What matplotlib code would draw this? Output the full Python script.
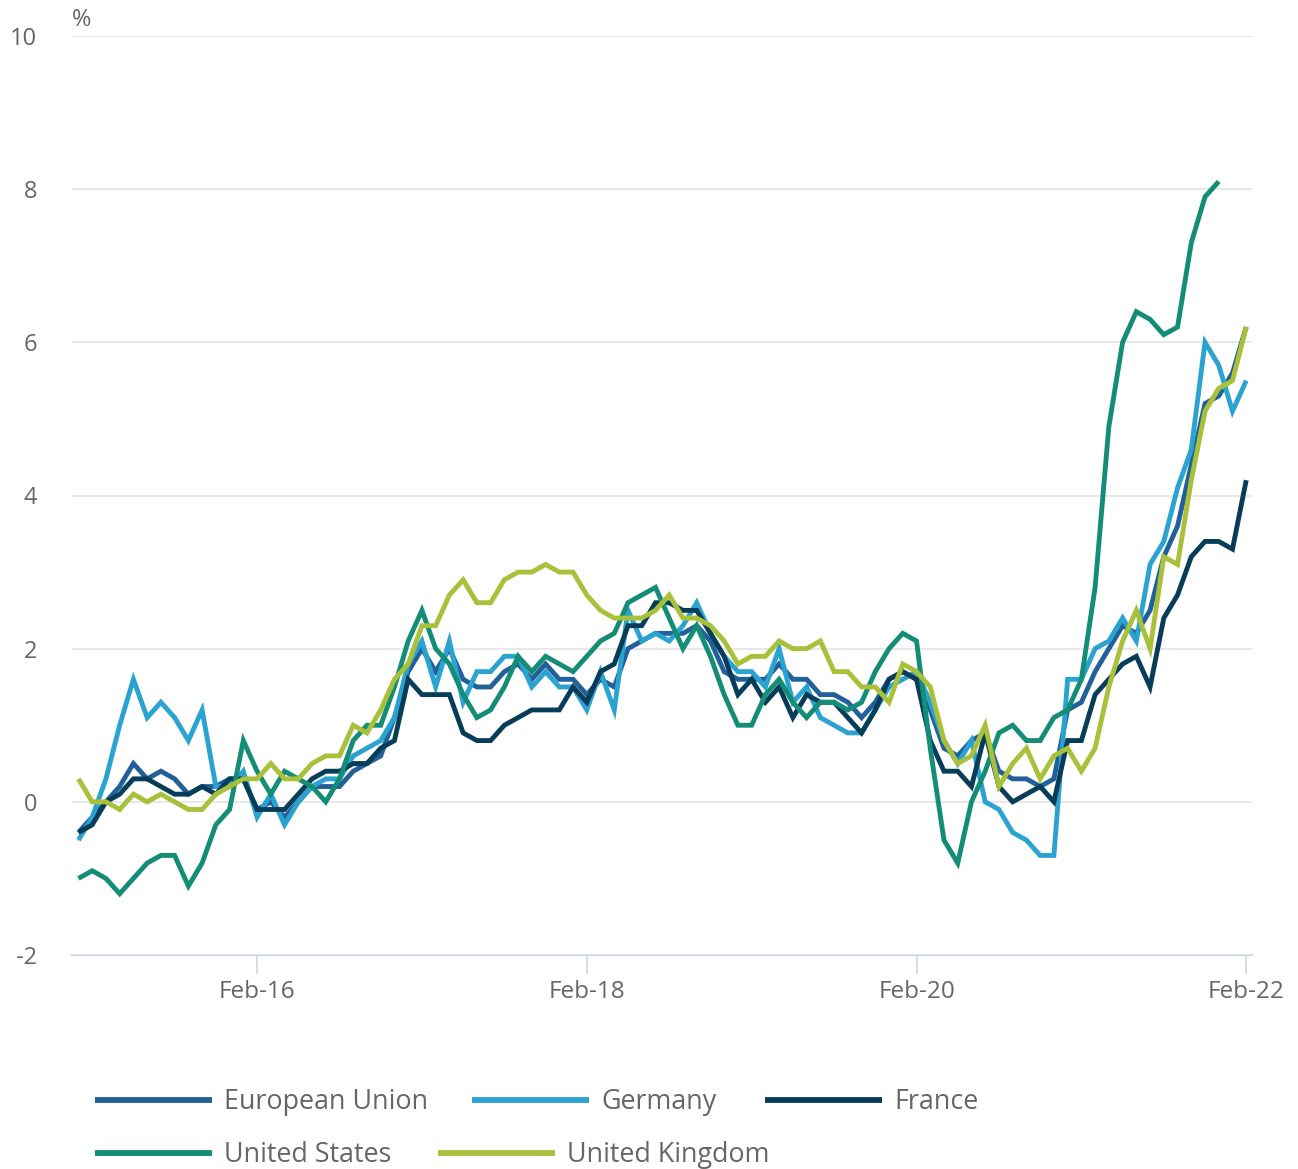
import numpy as np
import matplotlib
matplotlib.use("Agg")
import matplotlib.pyplot as plt
from matplotlib.lines import Line2D

# ---- data (annual inflation, %) monthly Jan-15 .. Feb-22 ----
months = [f"{m}-{y:02d}" for y in range(15, 23) for m in
          ["Jan", "Feb", "Mar", "Apr", "May", "Jun", "Jul", "Aug", "Sep", "Oct", "Nov", "Dec"]][:86]

eu = [-0.4, -0.2, 0.0, 0.2, 0.5, 0.3, 0.4, 0.3, 0.1, 0.2, 0.2, 0.3,
      0.3, -0.1, 0.0, -0.2, 0.0, 0.2, 0.2, 0.2, 0.4, 0.5, 0.6, 1.1,
      1.7, 2.0, 1.7, 2.0, 1.6, 1.5, 1.5, 1.7, 1.8, 1.6, 1.8, 1.6,
      1.6, 1.4, 1.6, 1.5, 2.0, 2.1, 2.2, 2.2, 2.2, 2.3, 2.1, 1.7,
      1.6, 1.6, 1.6, 1.8, 1.6, 1.6, 1.4, 1.4, 1.3, 1.1, 1.3, 1.6,
      1.7, 1.6, 1.2, 0.7, 0.6, 0.8, 0.9, 0.4, 0.3, 0.3, 0.2, 0.3,
      1.2, 1.3, 1.7, 2.0, 2.3, 2.2, 2.5, 3.2, 3.6, 4.4, 5.2, 5.3,
      5.6, 6.2]

germany = [-0.5, -0.2, 0.3, 1.0, 1.6, 1.1, 1.3, 1.1, 0.8, 1.2, 0.2, 0.2,
           0.4, -0.2, 0.1, -0.3, 0.0, 0.2, 0.3, 0.3, 0.6, 0.7, 0.8, 1.1,
           1.8, 2.1, 1.5, 2.1, 1.3, 1.7, 1.7, 1.9, 1.9, 1.5, 1.7, 1.5,
           1.5, 1.2, 1.7, 1.2, 2.5, 2.1, 2.2, 2.1, 2.3, 2.6, 2.2, 1.9,
           1.7, 1.7, 1.5, 2.0, 1.3, 1.5, 1.1, 1.0, 0.9, 0.9, 1.2, 1.5,
           1.6, 1.7, 1.3, 0.8, 0.5, 0.8, 0.0, -0.1, -0.4, -0.5, -0.7, -0.7,
           1.6, 1.6, 2.0, 2.1, 2.4, 2.1, 3.1, 3.4, 4.1, 4.6, 6.0, 5.7,
           5.1, 5.5]

france = [-0.4, -0.3, 0.0, 0.1, 0.3, 0.3, 0.2, 0.1, 0.1, 0.2, 0.1, 0.3,
          0.3, -0.1, -0.1, -0.1, 0.1, 0.3, 0.4, 0.4, 0.5, 0.5, 0.7, 0.8,
          1.6, 1.4, 1.4, 1.4, 0.9, 0.8, 0.8, 1.0, 1.1, 1.2, 1.2, 1.2,
          1.5, 1.3, 1.7, 1.8, 2.3, 2.3, 2.6, 2.6, 2.5, 2.5, 2.2, 1.9,
          1.4, 1.6, 1.3, 1.5, 1.1, 1.4, 1.3, 1.3, 1.1, 0.9, 1.2, 1.6,
          1.7, 1.6, 0.8, 0.4, 0.4, 0.2, 0.9, 0.2, 0.0, 0.1, 0.2, 0.0,
          0.8, 0.8, 1.4, 1.6, 1.8, 1.9, 1.5, 2.4, 2.7, 3.2, 3.4, 3.4,
          3.3, 4.2]

united_states = [-1.0, -0.9, -1.0, -1.2, -1.0, -0.8, -0.7, -0.7, -1.1, -0.8, -0.3, -0.1,
                 0.8, 0.4, 0.1, 0.4, 0.3, 0.2, 0.0, 0.3, 0.8, 1.0, 1.0, 1.5,
                 2.1, 2.5, 2.0, 1.8, 1.4, 1.1, 1.2, 1.5, 1.9, 1.7, 1.9, 1.8,
                 1.7, 1.9, 2.1, 2.2, 2.6, 2.7, 2.8, 2.4, 2.0, 2.3, 1.9, 1.4,
                 1.0, 1.0, 1.4, 1.6, 1.3, 1.1, 1.3, 1.3, 1.2, 1.3, 1.7, 2.0,
                 2.2, 2.1, 0.7, -0.5, -0.8, 0.0, 0.4, 0.9, 1.0, 0.8, 0.8, 1.1,
                 1.2, 1.6, 2.8, 4.9, 6.0, 6.4, 6.3, 6.1, 6.2, 7.3, 7.9, 8.1]

united_kingdom = [0.3, 0.0, 0.0, -0.1, 0.1, 0.0, 0.1, 0.0, -0.1, -0.1, 0.1, 0.2,
                  0.3, 0.3, 0.5, 0.3, 0.3, 0.5, 0.6, 0.6, 1.0, 0.9, 1.2, 1.6,
                  1.8, 2.3, 2.3, 2.7, 2.9, 2.6, 2.6, 2.9, 3.0, 3.0, 3.1, 3.0,
                  3.0, 2.7, 2.5, 2.4, 2.4, 2.4, 2.5, 2.7, 2.4, 2.4, 2.3, 2.1,
                  1.8, 1.9, 1.9, 2.1, 2.0, 2.0, 2.1, 1.7, 1.7, 1.5, 1.5, 1.3,
                  1.8, 1.7, 1.5, 0.8, 0.5, 0.6, 1.0, 0.2, 0.5, 0.7, 0.3, 0.6,
                  0.7, 0.4, 0.7, 1.5, 2.1, 2.5, 2.0, 3.2, 3.1, 4.2, 5.1, 5.4,
                  5.5, 6.2]

series_names = ["European Union", "Germany", "France", "United States", "United Kingdom"]
series_values = [eu, germany, france, united_states, united_kingdom]
colors = ["#22609a", "#2ba3d1", "#073d58", "#138d76", "#a9c03b"]

tick_labels = ["Feb-16", "Feb-18", "Feb-20", "Feb-22"]
y_ticks = [-2, 0, 2, 4, 6, 8, 10]

# ---- figure ----
W, H = 1298, 1169
fig = plt.figure(figsize=(W / 100, H / 100), dpi=100)
ax = fig.add_axes([72 / W, 1 - 955 / H, (1252 - 72) / W, (955 - 36) / H])

FONT = "Open Sans"
TXT = "#666666"

for name, vals, c in zip(series_names, series_values, colors):
    x = np.arange(len(vals))
    ax.plot(x, vals, color=c, lw=3.5, solid_joinstyle="miter", solid_capstyle="butt",
            zorder=3, clip_on=False)

ax.set_ylim(-2, 10)
ax.set_xlim(-0.47, 85.42)
ax.set_yticks(y_ticks)
ax.set_yticklabels([str(v) for v in y_ticks], fontfamily=FONT, fontsize=17, color=TXT)
tick_pos = [months.index(t) for t in tick_labels]
ax.set_xticks(tick_pos)
ax.set_xticklabels(tick_labels, fontfamily=FONT, fontsize=17.5, color=TXT)

ax.grid(axis="y", color="#e6e6e6", lw=1.3, zorder=0)
ax.grid(axis="x", visible=False)
for s in ["top", "right", "left"]:
    ax.spines[s].set_visible(False)
ax.spines["bottom"].set_color("#ccd6eb")
ax.spines["bottom"].set_linewidth(1.5)
ax.spines["bottom"].set_zorder(1)
ax.tick_params(axis="y", length=0, pad=25)
for lab in ax.get_yticklabels():
    lab.set_horizontalalignment("right")
ax.tick_params(axis="x", length=14, width=1.2, color="#ccd6eb", pad=4)

fig.text(72 / W, 1 - 20 / H, "%", fontfamily=FONT, fontsize=17, color=TXT,
         ha="left", va="center")

# ---- legend (manual, flowing like the original) ----
legend_items = [(0, 95, 1100), (1, 472, 1100), (2, 765, 1100),
                (3, 95, 1153), (4, 438, 1153)]
for idx, lx, ly in legend_items:
    yf = 1 - ly / H
    fig.add_artist(Line2D([lx / W, (lx + 117) / W], [yf, yf], transform=fig.transFigure,
                          color=colors[idx], lw=4.2, solid_capstyle="butt"))
    fig.text((lx + 129) / W, yf - 2 / H, series_names[idx], fontfamily=FONT, fontsize=19.4,
             color=TXT, ha="left", va="center")

fig.savefig("out.png", dpi=100, facecolor="white")
